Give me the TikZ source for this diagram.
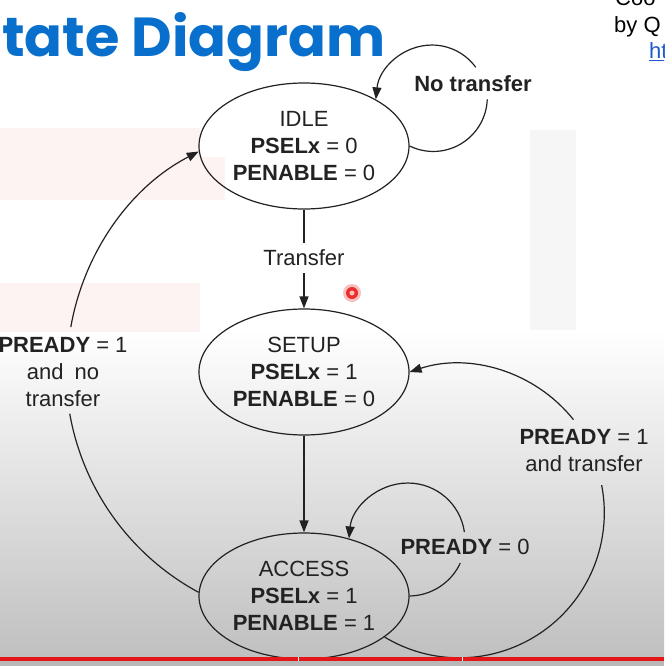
\documentclass[tikz,border=0pt]{standalone}
\usepackage{graphicx}
\usepackage{fontspec}
\setmainfont{Liberation Sans}
\newfontfamily\titlefont{Poppins}
\usetikzlibrary{shapes.geometric,arrows.meta}
\definecolor{ink}{RGB}{34,34,34}
\definecolor{titleblue}{RGB}{8,112,204}
\definecolor{linkblue}{RGB}{30,90,200}
\definecolor{wmpink}{RGB}{253,243,242}
\definecolor{wmgray}{RGB}{246,246,246}
\definecolor{barred}{RGB}{228,22,24}
\definecolor{dotred}{RGB}{235,45,45}
\begin{document}
\begin{tikzpicture}[x=1pt,y=-1pt,
  st/.style={ellipse, draw=ink, line width=1.2pt, minimum width=210pt, minimum height=126pt,
             inner sep=0pt, align=center, font=\fontsize{22}{27}\selectfont, text=ink},
  lbl/.style={align=center, font=\fontsize{22}{27}\selectfont, text=ink, inner sep=0pt},
  conn/.style={draw=ink, line width=1.2pt},
  arr/.style={conn, -{Triangle[length=12pt,width=9pt]}},
  side/.style={font=\fontsize{22}{27}\selectfont, inner sep=0pt, anchor=base west}]
\useasboundingbox (0,0) rectangle (664,666);
\clip (0,0) rectangle (664,666);
% background
\fill[white] (0,0) rectangle (664,666);
\shade[top color=white, bottom color={rgb,255:red,192;green,192;blue,192}] (0,330) rectangle (664,657);
\fill[wmpink] (0,128) rectangle (200,157);
\fill[wmpink] (0,157) rectangle (225,200);
\fill[wmpink] (0,283) rectangle (200,332);
\fill[wmgray] (530,130) rectangle (576,330);
% title and side texts
\node[anchor=base west, inner sep=0pt, text=titleblue] (title) at (2,57)
  {\resizebox{383pt}{44pt}{\titlefont\bfseries tate Diagram}};
\node[side, text=black] (coo) at (615,6) {Coo};
\node[side, text=black] (byq) at (614,33) {by Q};
\node[side, text=linkblue] (ht) at (649,59) {\underline{ht}};
% red dot
\fill[dotred!30] (352,293) circle (9);
\fill[dotred] (352,293) circle (6);
\fill[red!25!white] (352,293) circle (2.5);
% states
\node[st] (idle) at (304,146) {IDLE\\\textbf{PSELx} = 0\\\textbf{PENABLE} = 0};
\node[st] (setup) at (304,372) {SETUP\\\textbf{PSELx} = 1\\\textbf{PENABLE} = 0};
\node[st] (access) at (304,596) {ACCESS\\\textbf{PSELx} = 1\\\textbf{PENABLE} = 1};
% labels
\node[lbl, inner ysep=7pt] (tr) at (304,258) {Transfer};
\node[lbl] (nt) at (473,84) {\textbf{No transfer}};
\node[lbl] (p0) at (465,547) {\textbf{PREADY} = 0};
\node[lbl] (p1t) at (584,451) {\textbf{PREADY} = 1\\and transfer};
\node[lbl] (p1n) at (63,372) {\textbf{PREADY} = 1\\and\enspace no\\transfer};
% IDLE -> SETUP
\draw[conn] (idle.south) -- (tr.north);
\draw[arr] (tr.south) -- (setup.north);
% SETUP -> ACCESS
\draw[arr] (setup.south) -- (access.north);
% IDLE self loop
\draw[conn] (idle.east) arc[start angle=116, end angle=2, radius=54];
\coordinate (ntin) at (475.7,67.3);
\draw[arr] (ntin) arc[start angle=-36, end angle=-90, radius=54]
  .. controls (402.9,45) and (379,68) .. (idle.33);
% ACCESS self loop
\draw[conn] (access.east) arc[start angle=89, end angle=25, radius=57];
\coordinate (p0in) at (464.4,532.1);
\draw[arr] (p0in) arc[start angle=-8, end angle=-90, radius=57]
  .. controls (377.3,483) and (352,507.3) .. (access.52);
% ACCESS -> SETUP
\draw[conn] (access.-27) arc[start angle=121, end angle=-11, radius=145];
\coordinate (p1tin) at (573.5,419.7);
\draw[arr] (p1tin) .. controls (534.7,370.9) and (469,352.4) .. (setup.east);
% ACCESS -> IDLE
\draw[conn] (access.178) arc[start angle=118.4, end angle=170, radius=253];
\coordinate (p1nin) at (70.8,327.1);
\draw[arr] (p1nin) .. controls (84,252) and (130.6,186.7) .. (idle.183);
% bottom bar
\fill[barred] (0,656.5) rectangle (664,661);
\fill[gray!55] (0,661) rectangle (664,666);
\fill[white] (297.5,656.5) rectangle (298.5,661);
\fill[white] (461.5,656.5) rectangle (462.5,661);
\end{tikzpicture}
\end{document}
